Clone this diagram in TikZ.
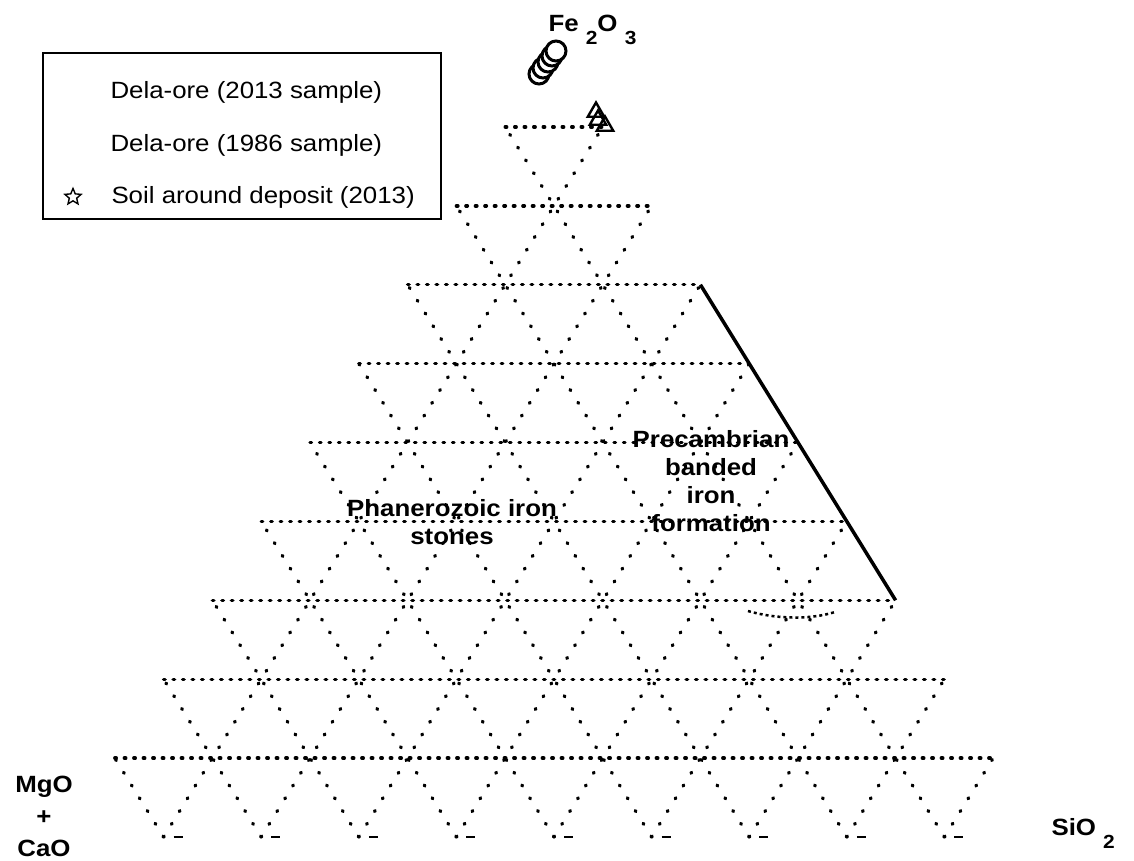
\documentclass[tikz,border=0pt]{standalone}
\usepackage{fontspec}
\setsansfont[FakeStretch=1.1]{Liberation Sans}
\usetikzlibrary{calc, shapes.geometric}
\newcommand{\chemsub}[1]{\raisebox{-13pt}{\fontsize{19}{19}\selectfont #1}}
\tikzset{
  every picture/.style={font=\sffamily, line width=1pt},
  gridrow/.style={line width=3.4pt, line cap=round, dash pattern=on 1.5pt off 8pt},
  gridslant/.style={line width=3.4pt, line cap=round, dash pattern=on 1pt off 14pt},
  baseedge/.style={line width=2pt, dash pattern=on 9pt off 88.6pt, dash phase=87.6pt},
  bifedge/.style={line width=3.5pt},
  legframe/.style={line width=2.5pt},
  axisname/.style={font=\sffamily\bfseries\fontsize{23.5}{32}\selectfont, inner sep=0pt, align=center},
  fieldname/.style={font=\sffamily\bfseries\fontsize{23.5}{28}\selectfont, inner sep=0pt, align=center},
  legtext/.style={font=\sffamily\fontsize{23.5}{27}\selectfont, inner sep=0pt, anchor=west},
  ore13/.style={circle, draw, fill=white, line width=3pt, minimum size=20pt, inner sep=0pt},
  ore86/.style={regular polygon, regular polygon sides=3, draw, line width=2.4pt, minimum size=19pt, inner sep=0pt},
}

\begin{document}
\begin{tikzpicture}[x=1pt, y=-1pt]
  \useasboundingbox (0,0) rectangle (1134,861);
  \coordinate (fe) at (554,48);
  \coordinate (mg) at (66,837);
  \coordinate (si) at (1042,837);
  \foreach \k in {1,...,9} {
    \draw[gridrow] ($(mg)!\k/10!(fe)$) -- ($(si)!\k/10!(fe)$);
    \draw[gridslant] ($(mg)!\k/10!(si)$) -- ($(fe)!\k/10!(si)$);
    \draw[gridslant] ($(mg)!\k/10!(si)$) -- ($(mg)!\k/10!(fe)$);
  }
  \coordinate (b1) at ($(mg)!0.1!(si)$);
  \draw[baseedge] (b1) -- (si);
  \coordinate (biftop) at ($(si)!0.7!(fe)$);
  \coordinate (bifbot) at ($(si)!0.3!(fe)$);
  \draw[bifedge] (biftop) -- (bifbot);
  \draw[line width=2.5pt, dashed] (748,611) .. controls (775,619) and (810,620) .. (835,612);

  \node[axisname, anchor=base west] (felab) at (548,32) {Fe \chemsub{2}O \chemsub{3}};
  \node[axisname, anchor=base west] (silab) at (1051,835) {SiO \chemsub{2}};
  \node[axisname] (mglab) at (44,816) {MgO\\+\\CaO};
  \node[fieldname] (phan) at (452,522) {Phanerozoic iron\\stones};
  \node[fieldname] (prec) at (711,481) {Precambrian\\banded\\iron\\formation};

  \node[ore13] (o1) at (539,74) {};
  \node[ore13] (o2) at (543,68) {};
  \node[ore13] (o3) at (548,62) {};
  \node[ore13] (o4) at (552,56) {};
  \node[ore13] (o5) at (556,51) {};
  \node[ore86] (t1) at (596,112) {};
  \node[ore86] (t2) at (598,120) {};
  \node[ore86] (t3) at (605,126) {};

  \draw[legframe] (43,53) rectangle (441,219);
  \node[legtext] (leg13) at (110,92) {Dela-ore (2013 sample)};
  \node[legtext] (leg86) at (110,145) {Dela-ore (1986 sample)};
  \node[star, star points=5, star point ratio=2.2, draw, line width=1.4pt, minimum size=17pt, inner sep=0pt] (soil) at (73,197) {};
  \node[legtext] (legsoil) at (111,197) {Soil around deposit (2013)};
\end{tikzpicture}
\end{document}
